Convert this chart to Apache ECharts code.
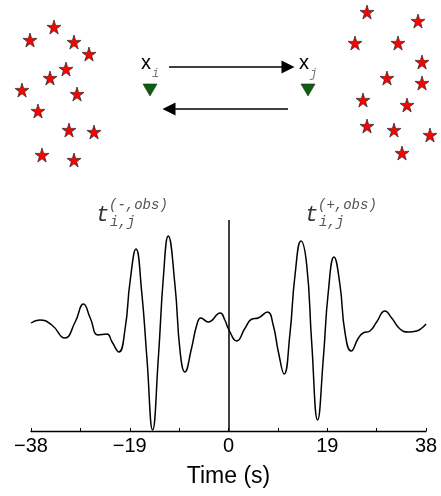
<!DOCTYPE html>
<html>
<head>
<meta charset="utf-8">
<script src="https://cdn.jsdelivr.net/npm/echarts@6/dist/echarts.min.js"></script>
<style>
  html, body { margin: 0; padding: 0; background: #fff; }
  #chart { width: 441px; height: 496px; }
</style>
</head>
<body>
<div id="chart"></div>
<script>
// cross-correlation trace (time in s, amplitude in arbitrary units)
const timeSec = [-38, -36.3, -34, -31.5, -29.5, -27.9, -26.6, -25.05, -23.4, -22.4, -21.1, -19.9, -18.95, -17.8,
  -16.7, -15.7, -14.6, -13.5, -12.5, -11.6, -10.3, -9.3, -8.4, -7.1, -6.1, -5.3, -3.9, -1.6, -0.7, 0,
  1.6, 3.2, 4.5, 5.7, 7.5, 8.6, 9.6, 10.7, 11.8, 12.8, 13.95, 15.05, 16, 17.15, 18.25, 19.2, 20.3,
  21.45, 22.4, 23.6, 25, 25.9, 27.2, 28.5, 30.1, 31.4, 33, 34.6, 36.2, 37.2, 38];
const amplitude = [0, 3, -2, -15, 1, 19, 5, -12, -11, -19, -29, -6, 41, 74,
  31, -35, -107, -35, 48, 87, 38, -29, -49, -25, -2, 5, 1, 10, 3, -6,
  -18, -5, 4, 5, 11, -2, -29, -51, -12, 48, 82, 58, -19, -97, -35, 31, 66,
  38, -9, -28, -15, -10, -8, 1, 12, 5, -6, -9, -8, -5, -1];
const xTicks = [-38, -19, 0, 19, 38];

// map view above the trace: virtual sources (stars) and the two receivers
const sourcesLeft = [[54, 27], [30, 40], [74, 42], [89, 54], [66, 69], [50, 78], [22, 90],
  [77, 94], [38, 111], [69, 130], [94, 132], [42, 155], [74, 160]];
const sourcesRight = [[367, 12], [418, 21], [355, 43], [398, 43], [422, 62], [387, 78], [422, 83],
  [363, 100], [407, 105], [367, 126], [394, 130], [430, 135], [402, 153]];
const receivers = [['i', 150, 90], ['j', 308, 90]];
const paths = [[[169, 67], [288, 67]], [[288, 109], [169, 109]]];

const starPath = 'path://M50,0 L61,35 L98,35 L68,57 L79,91 L50,70 L21,91 L32,57 L2,35 L39,35 Z';
const fmtTick = (v) => v < 0 ? '\u2212' + Math.abs(v) : String(v);

let chart = echarts.init(document.getElementById('chart'), null, { renderer: 'canvas' });

let options = {
  animation: false,
  backgroundColor: '#fff',
  grid: [
    { left: 0, right: 0, top: 0, height: 180 },
    { left: 31, right: 15, top: 220, bottom: 65 }
  ],
  xAxis: [
    { gridIndex: 0, type: 'value', min: 0, max: 441, show: false },
    {
      gridIndex: 1, type: 'value', min: -38, max: 38, interval: 19,
      axisLine: { onZero: false, lineStyle: { color: '#000', width: 1.3 } },
      axisTick: { inside: true, length: 3, lineStyle: { color: '#000' } },
      minorTick: { show: true, splitNumber: 2, length: 3, lineStyle: { color: '#000' } },
      splitLine: { show: false },
      axisLabel: {
        color: '#000', fontSize: 20, fontFamily: 'Liberation Sans', margin: 5,
        formatter: fmtTick, showMinLabel: true, showMaxLabel: true
      },
      name: 'Time (s)', nameLocation: 'middle', nameGap: 34,
      nameTextStyle: { color: '#000', fontSize: 23, fontFamily: 'Liberation Sans' }
    }
  ],
  yAxis: [
    { gridIndex: 0, type: 'value', min: 0, max: 180, inverse: true, show: false },
    { gridIndex: 1, type: 'value', min: -108, max: 103, show: false }
  ],
  series: [
    {
      name: 'sources', type: 'scatter', xAxisIndex: 0, yAxisIndex: 0,
      data: sourcesLeft.concat(sourcesRight),
      symbol: starPath, symbolSize: 14,
      itemStyle: { color: '#ff0000', borderColor: '#222', borderWidth: 0.7, opacity: 1 }
    },
    {
      name: 'receivers', type: 'scatter', xAxisIndex: 0, yAxisIndex: 0,
      data: receivers.map(r => ({ name: r[0], value: [r[1], r[2]] })),
      symbol: 'triangle', symbolRotate: 180, symbolSize: [14, 12],
      itemStyle: { color: '#0f5c12', borderColor: '#0a3a0a', borderWidth: 0.6, opacity: 1 },
      label: {
        show: true, position: 'top', distance: 4,
        formatter: (p) => '{x|x}{s|' + p.name + '}',
        rich: {
          x: { fontSize: 20, color: '#000', fontFamily: 'Liberation Sans', verticalAlign: 'bottom', padding: [0, 1, 6, 0] },
          s: { fontSize: 12, color: '#777', fontFamily: 'Liberation Mono', fontStyle: 'italic', verticalAlign: 'bottom' }
        }
      }
    },
    {
      name: 'paths', type: 'lines', coordinateSystem: 'cartesian2d', xAxisIndex: 0, yAxisIndex: 0,
      data: paths.map(c => ({ coords: c })),
      symbol: ['none', 'path://M5,0 L10,18 L0,18 Z'], symbolSize: 13,
      lineStyle: { color: '#000', width: 1.5, opacity: 1 }
    },
    {
      name: 'trace', type: 'line', xAxisIndex: 1, yAxisIndex: 1,
      data: timeSec.map((t, i) => [t, amplitude[i]]),
      smooth: 0.5, showSymbol: false,
      lineStyle: { color: '#000', width: 1.5 },
      markLine: {
        silent: true, symbol: 'none', label: { show: false },
        lineStyle: { color: '#000', width: 1.5, type: 'solid' },
        data: [{ xAxis: 0 }]
      }
    }
  ],
  graphic: [
    {
      type: 'group', left: 96, top: 198,
      children: [
        { type: 'text', x: 0, y: 6, style: { text: 't', fontSize: 22, fontFamily: 'Liberation Mono', fontStyle: 'italic', fill: '#333' } },
        { type: 'text', x: 13, y: 0, style: { text: '(-,obs)', fontSize: 14, fontFamily: 'Liberation Mono', fontStyle: 'italic', fill: '#555' } },
        { type: 'text', x: 14, y: 17, style: { text: 'i,j', fontSize: 14, fontFamily: 'Liberation Mono', fontStyle: 'italic', fill: '#555' } }
      ]
    },
    {
      type: 'group', left: 305, top: 198,
      children: [
        { type: 'text', x: 0, y: 6, style: { text: 't', fontSize: 22, fontFamily: 'Liberation Mono', fontStyle: 'italic', fill: '#333' } },
        { type: 'text', x: 13, y: 0, style: { text: '(+,obs)', fontSize: 14, fontFamily: 'Liberation Mono', fontStyle: 'italic', fill: '#555' } },
        { type: 'text', x: 14, y: 17, style: { text: 'i,j', fontSize: 14, fontFamily: 'Liberation Mono', fontStyle: 'italic', fill: '#555' } }
      ]
    }
  ]
};

chart.setOption(options);
</script>
</body>
</html>
